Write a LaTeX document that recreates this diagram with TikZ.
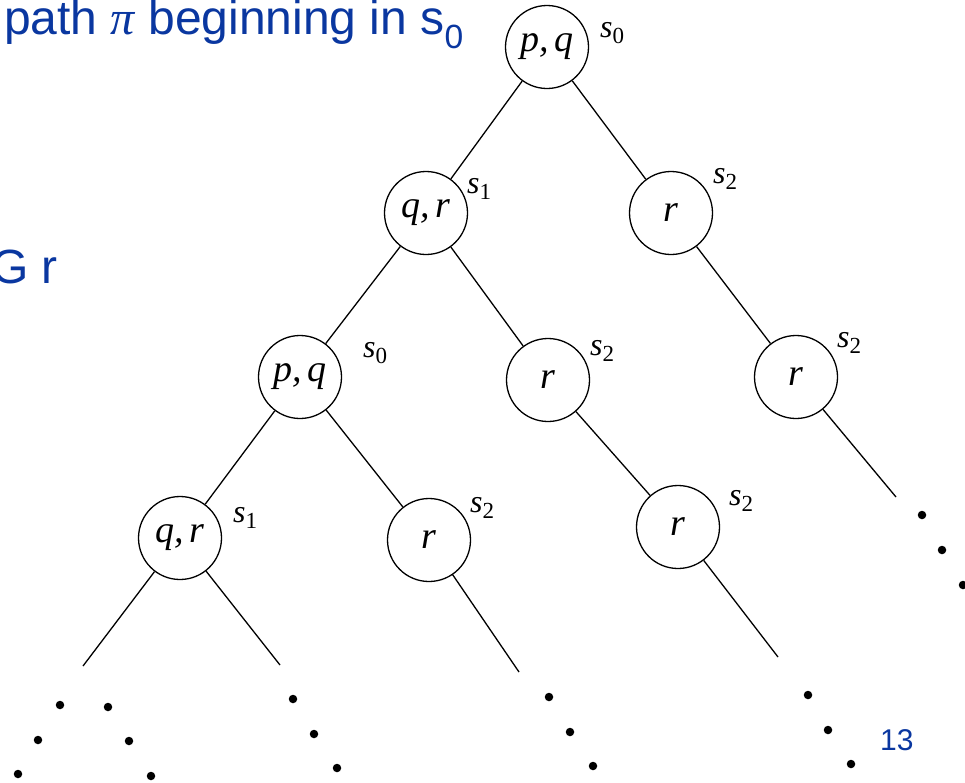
\documentclass[tikz,border=0pt]{standalone}
\usepackage{fontspec}
\setmainfont{Liberation Sans}
\newfontfamily\tms{Liberation Serif}
\definecolor{slideblue}{RGB}{10,55,160}
\newcommand\stl[1]{s\raisebox{-6pt}{\upshape\fontsize{23}{23}\selectfont #1}}
\tikzset{
  state/.style={circle, draw, line width=1.3pt, minimum size=83pt, inner sep=0pt,
    font=\tms\itshape\fontsize{38}{38}\selectfont},
  slbl/.style={anchor=base west, inner sep=0pt, font=\tms\itshape\fontsize{32}{32}\selectfont},
  tedge/.style={line width=1.3pt},
  tdot/.style={circle, fill=black, inner sep=0pt, minimum size=8.5pt},
  bluetxt/.style={anchor=base west, inner sep=0pt, text=slideblue, font=\fontsize{48}{52}\selectfont},
}
\begin{document}
\begin{tikzpicture}[x=1pt, y=-1pt]
\useasboundingbox (0,0) rectangle (965,782);
% slide texts
\node[bluetxt] (title) at (4,34) {path {\tms\itshape π} beginning in s\textsubscript{0}};
\node[bluetxt] (gr) at (-9,283) {G r};
\node[anchor=base west, inner sep=0pt, text=slideblue, font=\fontsize{30}{32}\selectfont] (pgnum) at (880,750) {13};
% states
\node[state] (A) at (547,47) {p,\hspace{5pt}q};
\node[state] (B) at (426,213) {q,\hspace{5pt}r};
\node[state] (C) at (671,213) {r};
\node[state] (D) at (300,377) {p,\hspace{5pt}q};
\node[state] (E) at (548,380) {r};
\node[state] (F) at (796,377) {r};
\node[state] (G) at (180,538) {q,\hspace{5pt}r};
\node[state] (H) at (429,540) {r};
\node[state] (I) at (678,527) {r};
% state labels
\node[slbl] (lA) at (600,37) {\stl{0}};
\node[slbl] (lB) at (467,193) {\stl{1}};
\node[slbl] (lC) at (713,183) {\stl{2}};
\node[slbl] (lD) at (363,357) {\stl{0}};
\node[slbl] (lE) at (590,355) {\stl{2}};
\node[slbl] (lF) at (837,347) {\stl{2}};
\node[slbl] (lG) at (233,522) {\stl{1}};
\node[slbl] (lH) at (470,512) {\stl{2}};
\node[slbl] (lI) at (729,505) {\stl{2}};
% free ends
\coordinate (g1) at (83,666);
\coordinate (g2) at (280,665);
\coordinate (h1) at (519,672);
\coordinate (i1) at (778,657);
\coordinate (f1) at (896,497);
% edges
\draw[tedge] (A) -- (B);
\draw[tedge] (A) -- (C);
\draw[tedge] (B) -- (D);
\draw[tedge] (B) -- (E);
\draw[tedge] (C) -- (F);
\draw[tedge] (D) -- (G);
\draw[tedge] (D) -- (H);
\draw[tedge] (E) -- (I);
\draw[tedge] (F) -- (f1);
\draw[tedge] (G) -- (g1);
\draw[tedge] (G) -- (g2);
\draw[tedge] (H) -- (h1);
\draw[tedge] (I) -- (i1);
% continuation dots
\node[tdot] (d1) at (60,705) {};
\node[tdot] (d2) at (38,740) {};
\node[tdot] (d3) at (18,774) {};
\node[tdot] (d4) at (108,707) {};
\node[tdot] (d5) at (129,741) {};
\node[tdot] (d6) at (151,776) {};
\node[tdot] (d7) at (293,699) {};
\node[tdot] (d8) at (314,734) {};
\node[tdot] (d9) at (337,768) {};
\node[tdot] (d10) at (549,697) {};
\node[tdot] (d11) at (570,732) {};
\node[tdot] (d12) at (593,766) {};
\node[tdot] (d13) at (808,695) {};
\node[tdot] (d14) at (828,730) {};
\node[tdot] (d15) at (851,764) {};
\node[tdot] (d16) at (922,515) {};
\node[tdot] (d17) at (942,550) {};
\node[tdot] (d18) at (963,585) {};
\end{tikzpicture}
\end{document}
